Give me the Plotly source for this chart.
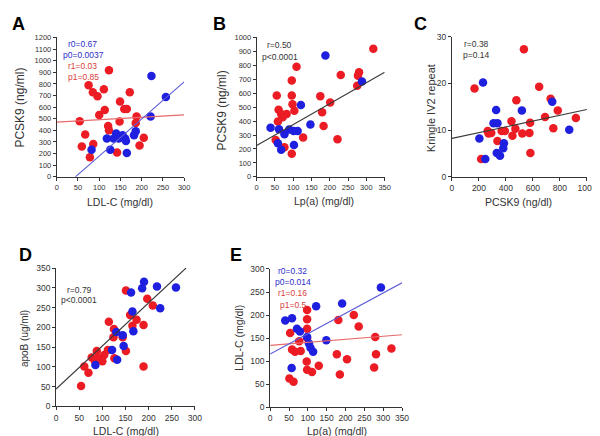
import plotly.graph_objects as go

W, H = 600, 436
FONT = "Liberation Sans, Arial, sans-serif"
RED = "#ec1c24"
BLUE = "#1f1fe0"
RED_LINE = "#e86a6a"
BLUE_LINE = "#5b5bd6"
BLACK_LINE = "#3a3a3a"
RED_TXT = "#d84040"
BLUE_TXT = "#2e2ec8"
GRAY_TXT = "#333333"

# ---------------- Panel A : LDL-C vs PCSK9 ----------------
a_red_x = [54, 59, 67, 75, 78, 85, 86, 96, 100, 111, 113, 121, 123, 123, 142, 148, 149, 159, 165, 172, 188, 186, 195, 205]
a_red_y = [479, 261, 365, 788, 168, 729, 283, 693, 533, 754, 575, 437, 917, 401, 210, 477, 648, 583, 583, 729, 519, 463, 269, 336]
a_blue_x = [82, 118, 126, 134, 140, 146, 155, 161, 163, 165, 182, 186, 221, 223, 257]
a_blue_y = [233, 331, 233, 331, 373, 331, 359, 331, 308, 205, 359, 392, 519, 869, 687]
a_fit_blue = (-140, 3.19)   # intercept, slope
a_fit_red = (471, 0.207)

# ---------------- Panel B : Lp(a) vs PCSK9 ----------------
b_red_x = [55, 60, 58, 52, 67, 76, 82, 71, 96, 96, 98, 103, 109, 96, 127, 174, 179, 183, 201, 221, 230, 275, 277, 280, 319]
b_red_y = [584, 481, 397, 264, 451, 213, 451, 428, 691, 584, 521, 474, 790, 166, 283, 579, 463, 364, 533, 269, 731, 654, 726, 750, 918]
b_blue_x = [38, 58, 67, 61, 76, 89, 101, 112, 102, 121, 147, 188, 288]
b_blue_y = [353, 241, 194, 341, 306, 339, 329, 329, 229, 516, 376, 871, 684]
b_fit = (225, 1.5)

# ---------------- Panel C : PCSK9 vs Kringle IV2 repeat ----------------
c_red_x = [167, 216, 264, 271, 291, 337, 368, 392, 441, 448, 470, 477, 533, 521, 579, 574, 581, 646, 690, 731, 751, 784, 918]
c_red_y = [18.9, 3.8, 9.8, 9.3, 9.4, 7.7, 9.8, 9.8, 11.9, 8.8, 10.3, 16.4, 27.3, 9.3, 11.6, 9.4, 5.1, 19.3, 12.8, 16.7, 10.4, 14.2, 12.6]
c_blue_x = [230, 203, 247, 327, 308, 337, 332, 356, 385, 380, 518, 743, 869]
c_blue_y = [20.2, 8.2, 3.8, 14.3, 11.5, 11.5, 5.1, 4.5, 7.2, 6.1, 14.2, 16.1, 10.1]
c_fit = (8.23, 0.0062)

# ---------------- Panel D : LDL-C vs apoB ----------------
d_red_x = [54, 61, 70, 77, 84, 88, 91, 100, 104, 114, 112, 125, 124, 126, 144, 151, 151, 160, 165, 174, 189, 189, 197, 209]
d_red_y = [52, 101, 85, 124, 115, 140, 122, 114, 130, 214, 143, 196, 175, 122, 175, 140, 293, 231, 204, 219, 206, 101, 272, 255]
d_blue_x = [85, 121, 130, 132, 144, 146, 162, 165, 167, 186, 190, 218, 225, 259]
d_blue_y = [105, 143, 188, 118, 180, 153, 288, 240, 190, 299, 315, 303, 248, 301]
d_fit = (44, 1.09)

# ---------------- Panel E : Lp(a) vs LDL-C ----------------
e_red_x = [98, 98, 98, 53, 98, 77, 58, 66, 81, 97, 98, 111, 129, 181, 222, 235, 177, 204, 185, 279, 281, 276, 322, 51, 62]
e_red_y = [211, 191, 170, 161, 150, 143, 125, 120, 122, 99, 81, 76, 90, 189, 200, 175, 115, 104, 71, 152, 115, 86, 127, 62, 55]
e_blue_x = [40, 58, 71, 79, 98, 103, 107, 114, 122, 191, 149, 57, 294]
e_blue_y = [188, 193, 170, 164, 152, 138, 129, 120, 219, 225, 145, 85, 260]
e_fit_blue = (115, 0.443)
e_fit_red = (134, 0.066)

# panel pixel boxes: x0, x1, y_top, y_bottom
panels = {
    "A": dict(box=(47.7, 177.7, 25.0, 167.7), xr=(0, 300), yr=(0, 1200), dx=50, dy=100, tick=7.5),
    "B": dict(box=(251.7, 382.3, 25.0, 167.7), xr=(0, 350), yr=(0, 1000), dx=50, dy=100, tick=7.5),
    "C": dict(box=(451.0, 588.7, 24.3, 167.7), xr=(0, 1000), yr=(0, 30), dx=200, dy=10, tick=8.5),
    "D": dict(box=(47.0, 188.7, 261.0, 402.7), xr=(0, 300), yr=(0, 350), dx=50, dy=50, tick=8.5),
    "E": dict(box=(265.5, 400.0, 262.0, 403.3), xr=(0, 350), yr=(0, 300), dx=50, dy=50, tick=8.5),
}

fig = go.Figure()
layout = dict(width=W, height=H, margin=dict(l=0, r=0, t=0, b=0),
              paper_bgcolor="white", plot_bgcolor="white", showlegend=False,
              font=dict(family=FONT, color=GRAY_TXT))
annotations = []

def px(x):
    return x / W

def py(y):
    return 1 - y / H

for i, (name, p) in enumerate(panels.items()):
    n = "" if i == 0 else str(i + 1)
    x0, x1, yt, yb = p["box"]
    common = dict(showline=True, linecolor="#333333", linewidth=1, ticks="outside",
                  ticklen=3, tickwidth=1, tickcolor="#333333", showgrid=False, zeroline=False,
                  tickfont=dict(size=p["tick"], family=FONT, color="#333333"), fixedrange=True)
    layout["xaxis" + n] = dict(domain=[px(x0), px(x1)], range=list(p["xr"]), dtick=p["dx"], tick0=0,
                               anchor="y" + n, **common)
    layout["yaxis" + n] = dict(domain=[py(yb), py(yt)], range=list(p["yr"]), dtick=p["dy"], tick0=0,
                               anchor="x" + n, **common)
    p["xa"], p["ya"] = "x" + n, "y" + n


def fit_line(fit, xr, yr):
    b, m = fit
    xs0, xs1 = xr
    pts = []
    for x in (xs0, xs1):
        y = b + m * x
        if y < yr[0]:
            x = (yr[0] - b) / m
        elif y > yr[1]:
            x = (yr[1] - b) / m
        pts.append(x)
    return pts, [b + m * x for x in pts]


def add_scatter(pname, xs, ys, color):
    p = panels[pname]
    fig.add_trace(go.Scatter(x=xs, y=ys, mode="markers", xaxis=p["xa"], yaxis=p["ya"],
                             marker=dict(color=color, size=8.5, line=dict(width=0)),
                             cliponaxis=False, hoverinfo="skip"))


def add_fit(pname, fit, color):
    p = panels[pname]
    lx, ly = fit_line(fit, p["xr"], p["yr"])
    fig.add_trace(go.Scatter(x=lx, y=ly, mode="lines", xaxis=p["xa"], yaxis=p["ya"],
                             line=dict(color=color, width=1.1), hoverinfo="skip"))


# A
add_scatter("A", a_red_x, a_red_y, RED)
add_scatter("A", a_blue_x, a_blue_y, BLUE)
add_fit("A", a_fit_red, RED_LINE)
add_fit("A", a_fit_blue, BLUE_LINE)
# B
add_scatter("B", b_red_x, b_red_y, RED)
add_scatter("B", b_blue_x, b_blue_y, BLUE)
add_fit("B", b_fit, BLACK_LINE)
# C
add_scatter("C", c_red_x, c_red_y, RED)
add_scatter("C", c_blue_x, c_blue_y, BLUE)
add_fit("C", c_fit, BLACK_LINE)
# D
add_scatter("D", d_red_x, d_red_y, RED)
add_scatter("D", d_blue_x, d_blue_y, BLUE)
add_fit("D", d_fit, BLACK_LINE)
# E
add_scatter("E", e_red_x, e_red_y, RED)
add_scatter("E", e_blue_x, e_blue_y, BLUE)
add_fit("E", e_fit_red, RED_LINE)
add_fit("E", e_fit_blue, BLUE_LINE)


def txt(x, y, s, size, color=GRAY_TXT, angle=0, bold=False):
    annotations.append(dict(x=px(x), y=py(y), xref="paper", yref="paper", text=("<b>%s</b>" % s) if bold else s,
                            showarrow=False, xanchor="center", yanchor="middle", textangle=angle,
                            borderpad=0, font=dict(size=size, color=color, family=FONT)))

# panel letters
for letter, (x, y) in {"A": (8.5, 11), "B": (213.5, 11), "C": (419, 11), "D": (16, 247.5), "E": (231, 247.5)}.items():
    txt(x, y, letter, 18, "#000000", bold=True)

# axis titles
txt(112, 193, "LDL-C (mg/dl)", 10.5)
txt(10, 97, "PCSK9 (ng/ml)", 12, angle=-90)
txt(320, 192, "Lp(a) (mg/dl)", 10.5)
txt(216, 100, "PCSK9 (ng/ml)", 12, angle=-90)
txt(519, 193, "PCSK9 (ng/dl)", 10.5)
txt(429, 97, "Kringle IV2 repeat", 11, angle=-90)
txt(118, 427.5, "LDL-C (mg/dl)", 10.5)
txt(15, 333, "apoB (ug/ml)", 10, angle=-90)
txt(333.5, 427.5, "Lp(a) (mg/dl)", 10.5)
txt(234, 332, "LDL-C (mg/dl)", 10.5, angle=-90)

# stats text
txt(74, 32, "r0=0.67", 8.5, BLUE_TXT)
txt(74.5, 43, "p0=0.0037", 8.5, BLUE_TXT)
txt(74, 54, "r1=0.03", 8.5, RED_TXT)
txt(75, 65, "p1=0.85", 8.5, RED_TXT)
txt(275, 33, "r=0.50", 8.5)
txt(275, 45.5, "p<0.0001", 8.5)
txt(476, 32, "r=0.38", 8.5)
txt(476, 43, "p=0.14", 8.5)
txt(70.5, 283, "r=0.79", 8.5)
txt(70.5, 294, "p<0.0001", 8.5)
txt(288, 264, "r0=0.32", 8.5, BLUE_TXT)
txt(289, 275.5, "p0=0.014", 8.5, BLUE_TXT)
txt(288.5, 287, "r1=0.16", 8.5, RED_TXT)
txt(289, 298.5, "p1=0.5", 8.5, RED_TXT)

layout["annotations"] = annotations
fig.update_layout(**layout)
fig.write_html("out.html")
